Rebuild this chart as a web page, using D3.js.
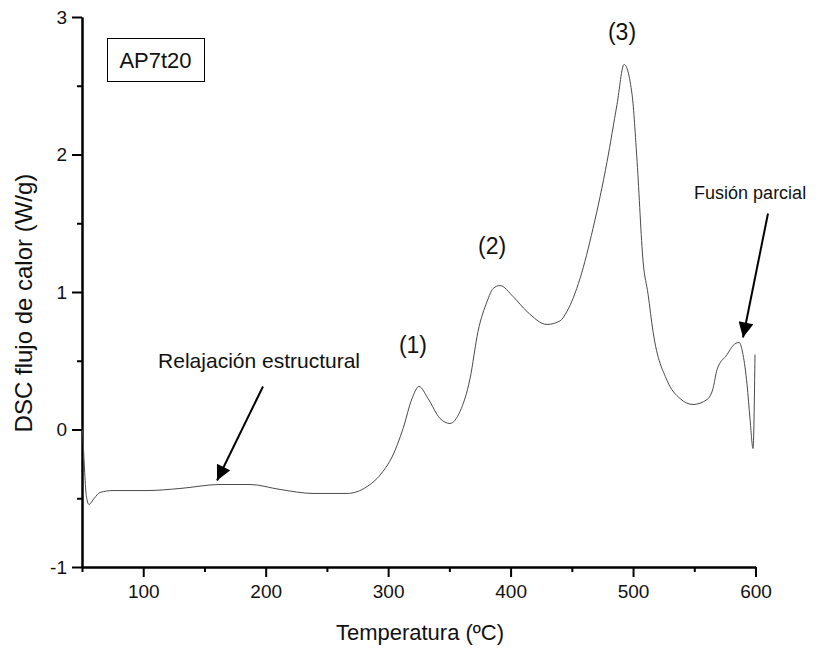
<!DOCTYPE html>
<html>
<head>
<meta charset="utf-8">
<script src="https://cdn.jsdelivr.net/npm/d3@7"></script>
<style>
  html, body { margin: 0; padding: 0; background: #fff; }
  svg { display: block; font-family: Arial, "Liberation Sans", sans-serif; }
</style>
</head>
<body>
<svg id="chart" width="825" height="648"></svg>
<script>
// DSC thermogram of sample AP7t20: temperature (ºC) vs heat flow (W/g)
const temperature = [50.5, 52, 53.5, 55.7, 60, 64.7, 75.3, 103.1, 130, 162.7, 187.2, 211.7, 238.7,
  266.4, 282.8, 295.8, 303.2, 312.2, 319.5, 325.2, 332.6, 342.4, 350.5, 358.7, 366.9,
  373.4, 380.8, 385.7, 391.4, 402, 413.4, 429.8, 440.4, 446.1, 456.7, 467.3, 478.8,
  486.9, 492.7, 499.2, 503.3, 508.2, 512.3, 516.3, 527.8, 538.4, 549, 560.4, 565.3,
  568.6, 576.8, 581.7, 586.6, 589.8, 593.1, 595.5, 598, 599.6];
const heatFlow = [0.0, -0.28, -0.48, -0.545, -0.5, -0.458, -0.444, -0.444, -0.429, -0.40, -0.40, -0.436, -0.465,
  -0.465, -0.415, -0.305, -0.2, 0.007, 0.225, 0.313, 0.225, 0.08, 0.044, 0.131, 0.371,
  0.713, 0.931, 1.025, 1.047, 0.967, 0.858, 0.764, 0.79, 0.86, 1.098, 1.462, 1.949,
  2.364, 2.655, 2.436, 1.949, 1.222, 0.982, 0.713, 0.356, 0.225, 0.182, 0.218, 0.298,
  0.436, 0.545, 0.611, 0.633, 0.545, 0.327, 0.08, -0.138, 0.545];

const xMajorTicks = [100, 200, 300, 400, 500, 600];
const xMinorTicks = [50, 150, 250, 350, 450, 550];
const yMajorTicks = [-1, 0, 1, 2, 3];
const yMinorTicks = [-0.5, 0.5, 1.5, 2.5];

// Peak labels and annotations, placed in data space
const peakLabels = ["(1)", "(2)", "(3)"];
const peakLabelX = [320.3, 384.9, 491];
const peakLabelY = [0.56, 1.273, 2.836];

const noteTexts = ["Relajación estructural", "Fusión parcial"];
const noteX = [194.6, 595.6];
const noteY = [0.444, 1.68];
const arrowFrom = [[197.8, 0.313], [610.2, 1.571]];
const arrowTo = [[160.3, -0.371], [589.8, 0.669]];

const sampleName = "AP7t20";

const svg = d3.select("#chart");
const x = d3.scaleLinear().domain([50, 600]).range([82, 755.5]);
const y = d3.scaleLinear().domain([-1, 3]).range([567, 17]);

const data = temperature.map((t, i) => ({ t, q: heatFlow[i] }));
const plain = d => String(d);

// Axes
const xAxis = svg.append("g").attr("transform", `translate(0,${y(-1)})`)
  .call(d3.axisBottom(x).tickValues(xMajorTicks).tickFormat(plain).tickSize(10).tickPadding(8).tickSizeOuter(0));
const xMinor = svg.append("g").attr("transform", `translate(0,${y(-1)})`)
  .call(d3.axisBottom(x).tickValues(xMinorTicks).tickSize(5).tickFormat("").tickSizeOuter(0));
const yAxis = svg.append("g").attr("transform", `translate(${x(50)},0)`)
  .call(d3.axisLeft(y).tickValues(yMajorTicks).tickFormat(plain).tickSize(10).tickPadding(5).tickSizeOuter(0));
const yMinor = svg.append("g").attr("transform", `translate(${x(50)},0)`)
  .call(d3.axisLeft(y).tickValues(yMinorTicks).tickSize(5).tickFormat("").tickSizeOuter(0));

[xAxis, xMinor, yAxis, yMinor].forEach(g => {
  g.selectAll("path.domain").attr("stroke", "#000").attr("stroke-width", 2);
  g.selectAll(".tick line").attr("stroke", "#000").attr("stroke-width", 2);
  g.selectAll(".tick text").attr("fill", "#111").style("font-size", "19px")
    .style("font-family", "Arial, 'Liberation Sans', sans-serif");
});

// Axis titles
svg.append("text").attr("x", 420).attr("y", 640).attr("text-anchor", "middle")
  .style("font-size", "22px").attr("fill", "#111").text("Temperatura (ºC)");
svg.append("text").attr("transform", "translate(32,303) rotate(-90)").attr("text-anchor", "middle")
  .style("font-size", "24px").attr("fill", "#111").text("DSC flujo de calor (W/g)");

// Curve
const line = d3.line().x(d => x(d.t)).y(d => y(d.q)).curve(d3.curveMonotoneX);
svg.append("path").datum(data).attr("d", line)
  .attr("fill", "none").attr("stroke", "#4a4a4a").attr("stroke-width", 1);

// Sample label box
const box = svg.append("g");
box.append("rect").attr("x", 107.5).attr("y", 38.5).attr("width", 97).attr("height", 43)
  .attr("fill", "#fff").attr("stroke", "#000").attr("stroke-width", 1);
box.append("text").attr("x", 155.5).attr("y", 68).attr("text-anchor", "middle")
  .style("font-size", "22px").attr("fill", "#111").text(sampleName);

// Peak labels
svg.selectAll("text.peak").data(peakLabels).join("text").attr("class", "peak")
  .attr("x", (d, i) => x(peakLabelX[i])).attr("y", (d, i) => y(peakLabelY[i]))
  .attr("text-anchor", "middle").style("font-size", "23px").attr("fill", "#111").text(d => d);

// Annotation texts
svg.selectAll("text.note").data(noteTexts).join("text").attr("class", "note")
  .attr("x", (d, i) => x(noteX[i])).attr("y", (d, i) => y(noteY[i]))
  .attr("text-anchor", "middle").style("font-size", (d, i) => i === 0 ? "21px" : "18px")
  .attr("fill", "#111").text(d => d);

// Arrows
svg.append("defs").append("marker").attr("id", "head")
  .attr("viewBox", "0 0 10 10").attr("refX", 10).attr("refY", 5)
  .attr("markerWidth", 8).attr("markerHeight", 7.5).attr("markerUnits", "strokeWidth")
  .attr("orient", "auto")
  .append("path").attr("d", "M0,0 L10,5 L0,10 Z").attr("fill", "#000");

arrowFrom.forEach((from, i) => {
  svg.append("line")
    .attr("x1", x(from[0])).attr("y1", y(from[1]))
    .attr("x2", x(arrowTo[i][0])).attr("y2", y(arrowTo[i][1]))
    .attr("stroke", "#000").attr("stroke-width", 2)
    .attr("marker-end", "url(#head)");
});
</script>
</body>
</html>
